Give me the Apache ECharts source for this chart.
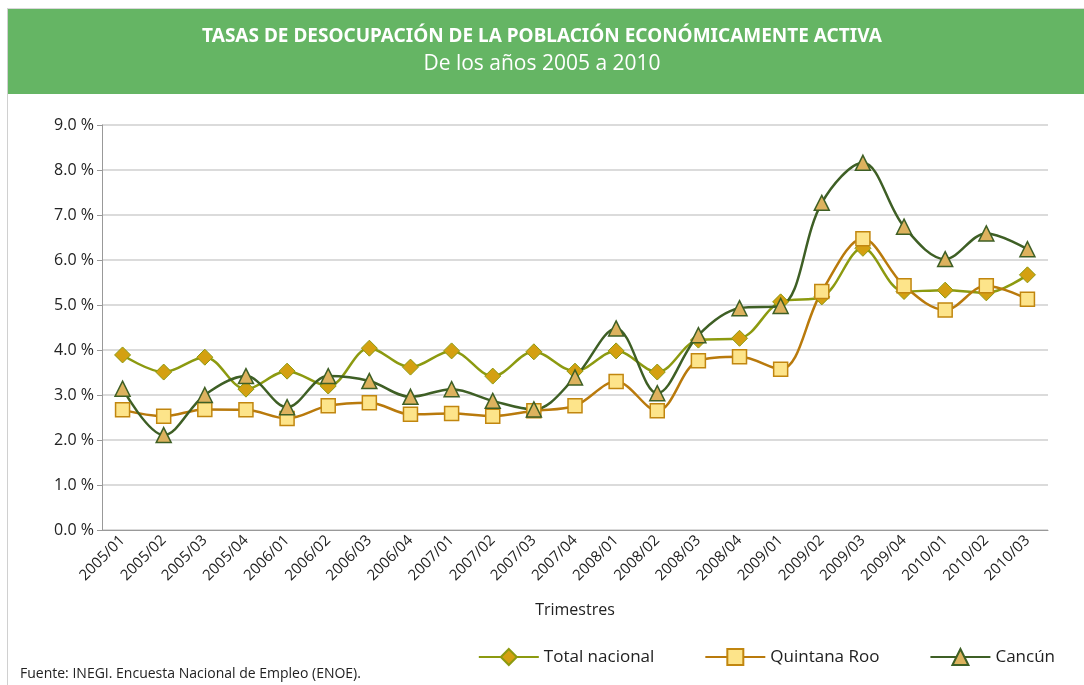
<!DOCTYPE html>
<html>
<head>
<meta charset="utf-8">
<script src="https://cdn.jsdelivr.net/npm/echarts@6/dist/echarts.min.js"></script>
<style>
    html, body { margin: 0; padding: 0; background: #fff; }
    #chart { width: 1084px; height: 685px; }
</style>
</head>
<body>
<div id="chart"></div>
<script>
const trimestres = [
    '2005/01', '2005/02', '2005/03', '2005/04',
    '2006/01', '2006/02', '2006/03', '2006/04',
    '2007/01', '2007/02', '2007/03', '2007/04',
    '2008/01', '2008/02', '2008/03', '2008/04',
    '2009/01', '2009/02', '2009/03', '2009/04',
    '2010/01', '2010/02', '2010/03'
];

const totalNacional = [3.89, 3.51, 3.84, 3.13, 3.53, 3.20, 4.04, 3.62, 3.98, 3.42, 3.96, 3.53,
    3.98, 3.51, 4.22, 4.26, 5.07, 5.18, 6.26, 5.30, 5.33, 5.27, 5.67];

const quintanaRoo = [2.67, 2.53, 2.68, 2.67, 2.48, 2.76, 2.83, 2.57, 2.59, 2.53, 2.65, 2.76,
    3.30, 2.65, 3.76, 3.85, 3.57, 5.30, 6.47, 5.43, 4.89, 5.43, 5.13];

const cancun = [3.14, 2.11, 3.00, 3.42, 2.73, 3.42, 3.31, 2.96, 3.13, 2.87, 2.68, 3.39,
    4.48, 3.04, 4.33, 4.93, 4.98, 7.27, 8.16, 6.74, 6.02, 6.59, 6.24];

const font = '"Open Sans", "Noto Sans", sans-serif';

const chart = echarts.init(document.getElementById('chart'));

chart.setOption({
    animation: false,
    backgroundColor: '#fff',
    graphic: [
        { type: 'rect', shape: { x: 7, y: 8, width: 1077, height: 1 }, style: { fill: '#d8d8d8' } },
        { type: 'rect', shape: { x: 7, y: 8, width: 1, height: 677 }, style: { fill: '#d0d0d0' } },
        { type: 'rect', shape: { x: 8, y: 9, width: 1076, height: 85 }, style: { fill: '#65b564' } },
        {
            type: 'text', left: 'center', top: 27,
            style: {
                text: 'TASAS DE DESOCUPACIÓN DE LA POBLACIÓN ECONÓMICAMENTE ACTIVA',
                fill: '#fff', font: 'bold 19px "Liberation Sans Narrow", "Noto Sans", sans-serif'
            }
        },
        {
            type: 'text', left: 'center', top: 54,
            style: { text: 'De los años 2005 a 2010', fill: '#fff', font: '21px ' + font }
        },
        {
            type: 'text', left: 20, top: 667,
            style: { text: 'Fuente: INEGI. Encuesta Nacional de Empleo (ENOE).', fill: '#222', font: '14px ' + font }
        }
    ],
    legend: {
        bottom: 14,
        right: 24,
        itemWidth: 60,
        itemHeight: 20,
        itemGap: 50,
        textStyle: { fontFamily: font, fontSize: 17, color: '#222' },
        data: ['Total nacional', 'Quintana Roo', 'Cancún']
    },
    grid: { left: 102, right: 36, top: 125, bottom: 155 },
    xAxis: {
        type: 'category',
        data: trimestres,
        name: 'Trimestres',
        nameLocation: 'middle',
        nameGap: 72,
        nameTextStyle: { fontFamily: font, fontSize: 16, color: '#222' },
        axisLine: { lineStyle: { color: '#999' } },
        axisTick: { show: false },
        axisLabel: {
            rotate: 45, interval: 0, fontFamily: font, fontSize: 15, color: '#222', margin: 8
        }
    },
    yAxis: {
        type: 'value',
        min: 0, max: 9, interval: 1,
        axisLine: { show: true, lineStyle: { color: '#999' } },
        axisTick: { show: true, inside: false, length: 5, lineStyle: { color: '#999' } },
        axisLabel: {
            fontFamily: font, fontSize: 16, color: '#222', margin: 8,
            formatter: v => v.toFixed(1) + ' %'
        },
        splitLine: { lineStyle: { color: '#cfcfcf', width: 1.5 } }
    },
    series: [
        {
            name: 'Total nacional',
            type: 'line',
            data: totalNacional,
            smooth: 0.35,
            symbol: 'diamond',
            symbolSize: 16,
            lineStyle: { color: '#8c9a10', width: 2.5 },
            itemStyle: { color: '#d4a011', borderColor: '#8c9a10', borderWidth: 1 }
        },
        {
            name: 'Quintana Roo',
            type: 'line',
            data: quintanaRoo,
            smooth: 0.35,
            symbol: 'rect',
            symbolSize: 14,
            lineStyle: { color: '#b97a0c', width: 2.5 },
            itemStyle: { color: '#fde48a', borderColor: '#c1860f', borderWidth: 1.5 }
        },
        {
            name: 'Cancún',
            type: 'line',
            data: cancun,
            smooth: 0.35,
            symbol: 'triangle',
            symbolSize: 15,
            lineStyle: { color: '#3e5f25', width: 2.5 },
            itemStyle: { color: '#ddb25e', borderColor: '#3e5f25', borderWidth: 1.5 }
        }
    ]
});
</script>
</body>
</html>
